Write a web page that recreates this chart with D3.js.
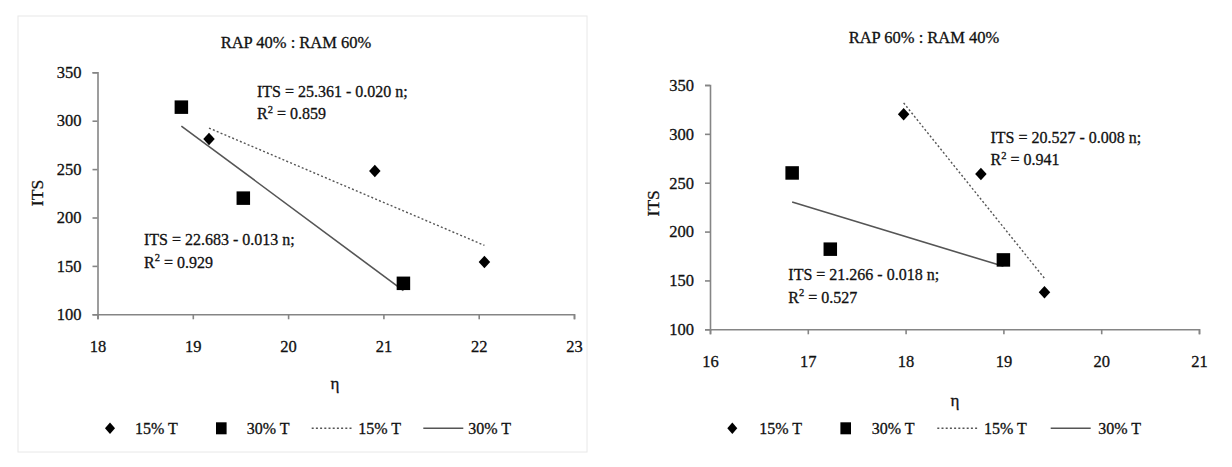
<!DOCTYPE html>
<html>
<head>
<meta charset="utf-8">
<script src="https://cdn.jsdelivr.net/npm/d3@7"></script>
<style>
  html, body { margin: 0; padding: 0; background: #fff; }
  svg { display: block; }
  svg text { font-family: "Liberation Serif", "Times New Roman", serif; fill: #111; stroke: #111; stroke-width: 0.3px; }
</style>
</head>
<body>
<svg id="chart" width="1232" height="467"></svg>
<script>
// ---------- DATA ----------
const leftTitle = "RAP 40% : RAM 60%";
const rightTitle = "RAP 60% : RAM 40%";

const leftEta15 = [19.17, 20.91, 22.06];
const leftITS15 = [281, 248, 154];
const leftEta30 = [18.88, 19.53, 21.21];
const leftITS30 = [314, 220, 132];

const rightEta15 = [17.98, 18.77, 19.42];
const rightITS15 = [320, 259, 138];
const rightEta30 = [16.84, 17.23, 19.00];
const rightITS30 = [260, 182, 171];

const yTickValues = [100, 150, 200, 250, 300, 350];
const leftXTickValues = [18, 19, 20, 21, 22, 23];
const rightXTickValues = [16, 17, 18, 19, 20, 21];

const leftEq15 = ["ITS = 25.361 - 0.020 n;", "0.859"];
const leftEq30 = ["ITS = 22.683 - 0.013 n;", "0.929"];
const rightEq15 = ["ITS = 20.527 - 0.008 n;", "0.941"];
const rightEq30 = ["ITS = 21.266 - 0.018 n;", "0.527"];

const legendLabels = ["15% T", "30% T", "15% T", "30% T"];
const xAxisLabel = "η";
const yAxisLabel = "ITS";

// ---------- DRAW ----------
const svg = d3.select("#chart");
const FONT = "Liberation Serif";

function fit(xs, ys) {
  const mx = d3.mean(xs), my = d3.mean(ys);
  let sxy = 0, sxx = 0;
  xs.forEach((x, i) => { sxy += (x - mx) * (ys[i] - my); sxx += (x - mx) * (x - mx); });
  const b = sxy / sxx;
  return x => my + b * (x - mx);
}

function diamondPath(w, h) {
  const p = d3.path();
  p.moveTo(0, -h / 2); p.lineTo(w / 2, 0); p.lineTo(0, h / 2); p.lineTo(-w / 2, 0); p.closePath();
  return p.toString();
}

function drawChart(cfg) {
  const g = svg.append("g");
  if (cfg.border) {
    g.append("rect").attr("x", cfg.border[0]).attr("y", cfg.border[1])
      .attr("width", cfg.border[2]).attr("height", cfg.border[3])
      .attr("fill", "none").attr("stroke", "#e8e8e8").attr("stroke-width", 1);
  }
  const x = d3.scaleLinear().domain(d3.extent(cfg.xTicks)).range(cfg.xRange);
  const y = d3.scaleLinear().domain([100, 350]).range(cfg.yRange);

  // axes
  const xAxis = g.append("g").attr("transform", `translate(0,${cfg.yRange[0]})`)
    .call(d3.axisBottom(x).tickValues(cfg.xTicks).tickSize(5).tickPadding(21).tickFormat(d3.format("d")));
  const yAxis = g.append("g").attr("transform", `translate(${cfg.xRange[0]},0)`)
    .call(d3.axisLeft(y).tickValues(yTickValues).tickSize(5).tickPadding(11).tickFormat(d3.format("d")));
  [xAxis, yAxis].forEach(a => {
    a.attr("font-family", FONT);
    a.select(".domain").attr("stroke", "#858585").attr("stroke-width", 1.6);
    a.selectAll(".tick line").attr("stroke", "#858585").attr("stroke-width", 1.6);
    a.selectAll(".tick text").attr("font-family", FONT).attr("font-size", 16.5).attr("fill", "#111");
  });

  // title and axis labels
  g.append("text").attr("x", cfg.titlePos[0]).attr("y", cfg.titlePos[1])
    .attr("text-anchor", "middle").attr("font-size", 16.5).text(cfg.title);
  g.append("text").attr("transform", `translate(${cfg.yLabelPos[0]},${cfg.yLabelPos[1]}) rotate(-90)`)
    .attr("text-anchor", "middle").attr("font-size", 17.5).text(yAxisLabel);
  g.append("text").attr("x", cfg.xLabelPos[0]).attr("y", cfg.xLabelPos[1])
    .attr("text-anchor", "middle").attr("font-size", 17).text(xAxisLabel);

  // trend lines
  const f15 = fit(cfg.x15, cfg.y15), f30 = fit(cfg.x30, cfg.y30);
  const e15 = d3.extent(cfg.x15), e30 = d3.extent(cfg.x30);
  g.append("line").attr("x1", x(e15[0])).attr("y1", y(f15(e15[0])))
    .attr("x2", x(e15[1])).attr("y2", y(f15(e15[1])))
    .attr("stroke", "#555").attr("stroke-width", 1.4).attr("stroke-dasharray", "2,2.2");
  g.append("line").attr("x1", x(e30[0])).attr("y1", y(f30(e30[0])))
    .attr("x2", x(e30[1])).attr("y2", y(f30(e30[1])))
    .attr("stroke", "#555").attr("stroke-width", 1.6);

  // markers
  g.selectAll(".d15").data(cfg.x15.map((v, i) => [v, cfg.y15[i]])).join("path")
    .attr("d", diamondPath(11.5, 12.5)).attr("transform", d => `translate(${x(d[0])},${y(d[1])})`)
    .attr("fill", "#000");
  const sq = 13.5;
  g.selectAll(".s30").data(cfg.x30.map((v, i) => [v, cfg.y30[i]])).join("rect")
    .attr("x", d => x(d[0]) - sq / 2).attr("y", d => y(d[1]) - sq / 2)
    .attr("width", sq).attr("height", sq).attr("fill", "#000");

  // equations
  function eq(pos, lines) {
    g.append("text").attr("x", pos[0]).attr("y", pos[1]).attr("font-size", 16).text(lines[0]);
    const t = g.append("text").attr("x", pos[0]).attr("y", pos[1] + 22.5).attr("font-size", 16);
    t.append("tspan").text("R");
    t.append("tspan").attr("font-size", 10.5).attr("dy", -6.5).text("2");
    t.append("tspan").attr("dy", 6.5).text(" = " + lines[1]);
  }
  eq(cfg.eq15Pos, cfg.eq15);
  eq(cfg.eq30Pos, cfg.eq30);

  // legend
  const L = cfg.legend, ly = L.y;
  g.append("path").attr("d", diamondPath(10, 11.5))
    .attr("transform", `translate(${L.d},${ly})`).attr("fill", "#000");
  g.append("rect").attr("x", L.s - 5.3).attr("y", ly - 6).attr("width", 10.6).attr("height", 12).attr("fill", "#000");
  g.append("line").attr("x1", L.dl[0]).attr("x2", L.dl[1]).attr("y1", ly).attr("y2", ly)
    .attr("stroke", "#555").attr("stroke-width", 1.4).attr("stroke-dasharray", "2,2.2");
  g.append("line").attr("x1", L.sl[0]).attr("x2", L.sl[1]).attr("y1", ly).attr("y2", ly)
    .attr("stroke", "#555").attr("stroke-width", 1.6);
  L.t.forEach((tx, i) => {
    g.append("text").attr("x", tx).attr("y", ly + 5.5).attr("font-size", 16).text(legendLabels[i]);
  });
}

drawChart({
  border: [18, 16, 569, 436],
  title: leftTitle, titlePos: [296, 47.5],
  xTicks: leftXTickValues, xRange: [97.5, 574], yRange: [314.3, 72.3],
  yLabelPos: [43, 193], xLabelPos: [335, 388.5],
  x15: leftEta15, y15: leftITS15, x30: leftEta30, y30: leftITS30,
  eq15: leftEq15, eq15Pos: [257, 96.5], eq30: leftEq30, eq30Pos: [144, 245],
  legend: { y: 428.3, d: 110, s: 221.3, dl: [311.7, 353.3], sl: [423.3, 463.3], t: [135, 246.7, 358.3, 468.3] }
});

drawChart({
  border: null,
  title: rightTitle, titlePos: [924, 42.5],
  xTicks: rightXTickValues, xRange: [710, 1199], yRange: [329.3, 85],
  yLabelPos: [659, 203.3], xLabelPos: [955, 406],
  x15: rightEta15, y15: rightITS15, x30: rightEta30, y30: rightITS30,
  eq15: rightEq15, eq15Pos: [990.5, 142.5], eq30: rightEq30, eq30Pos: [788.3, 280],
  legend: { y: 428.3, d: 732.3, s: 845.7, dl: [937.3, 978.3], sl: [1050.7, 1090.7], t: [759.3, 871.7, 984, 1098.3] }
});
</script>
</body>
</html>
